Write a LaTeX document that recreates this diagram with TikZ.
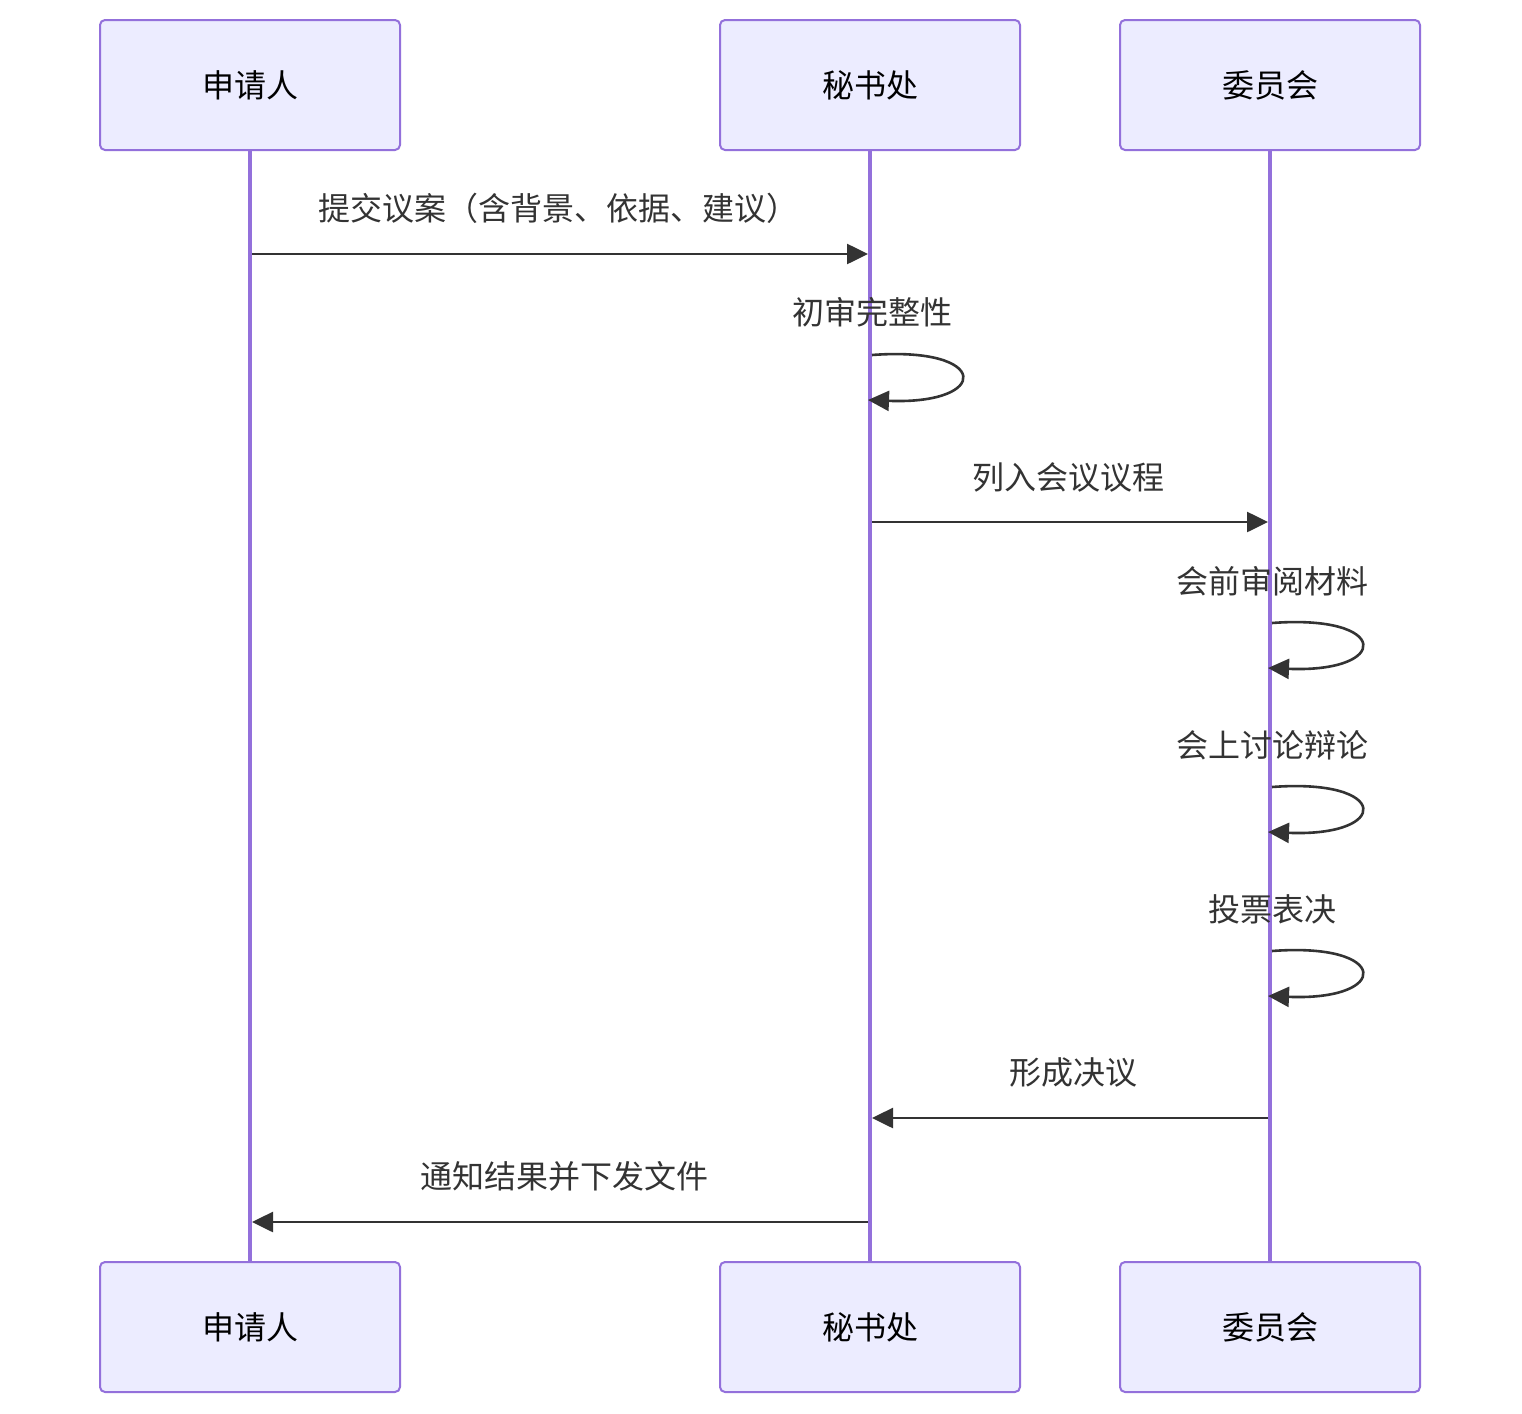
\documentclass[tikz,border=0pt]{standalone}
\usepackage{fontspec}
\newfontfamily\cjk{Noto Sans CJK SC}
\usetikzlibrary{arrows.meta}
\definecolor{actfill}{HTML}{ECECFF}
\definecolor{actline}{HTML}{9370DB}
\definecolor{msgcol}{HTML}{333333}
\tikzset{
	actor/.style={draw=actline,fill=actfill,line width=1pt,rounded corners=2.5pt,minimum width=150pt,minimum height=65pt,inner sep=0pt,font=\cjk\fontsize{16}{19}\selectfont,text=black},
	life/.style={actline,line width=2pt},
	msg/.style={msgcol,line width=1.3pt,-{Triangle[length=10.5pt,width=10pt]}},
	msglabel/.style={font=\cjk\fontsize{16}{19}\selectfont,text=msgcol,inner sep=0pt}
}
\begin{document}
\begin{tikzpicture}[x=0.5pt,y=-0.5pt]
		\useasboundingbox (0,0) rectangle (1522,1414);
		
		\draw[life] (250,150) -- (250,1262);
		\draw[life] (870,150) -- (870,1262);
		\draw[life] (1270,150) -- (1270,1262);
		
		\node[actor] (sqr) at (250,85) {申请人};
		\node[actor] (msc) at (870,85) {秘书处};
		\node[actor] (wyh) at (1270,85) {委员会};
		\node[actor] (sqrb) at (250,1327) {申请人};
		\node[actor] (mscb) at (870,1327) {秘书处};
		\node[actor] (wyhb) at (1270,1327) {委员会};
		
		% messages
		\coordinate (m1a) at (252,254);
		\coordinate (m1b) at (868,254);
		\draw[msg] (m1a) -- (m1b);
		\node[msglabel] (t1) at (558,208) {提交议案（含背景、依据、建议）};
		
		\node[msglabel] (t2) at (872,312) {初审完整性};
		\coordinate (s2a) at (872,355);
		\coordinate (s2b) at (868,400);
		\draw[msg] (s2a) .. controls (991,346) and (991,405) .. (s2b);
		
		\coordinate (m3a) at (872,522);
		\coordinate (m3b) at (1268,522);
		\draw[msg] (m3a) -- (m3b);
		\node[msglabel] (t3) at (1068,477) {列入会议议程};
		
		\node[msglabel] (t4) at (1272,581) {会前审阅材料};
		\coordinate (s4a) at (1272,623);
		\coordinate (s4b) at (1268,668);
		\draw[msg] (s4a) .. controls (1391,614) and (1391,673) .. (s4b);
		
		\node[msglabel] (t5) at (1272,745) {会上讨论辩论};
		\coordinate (s5a) at (1272,787);
		\coordinate (s5b) at (1268,832);
		\draw[msg] (s5a) .. controls (1391,778) and (1391,837) .. (s5b);
		
		\node[msglabel] (t6) at (1272,909) {投票表决};
		\coordinate (s6a) at (1272,951);
		\coordinate (s6b) at (1268,996);
		\draw[msg] (s6a) .. controls (1391,942) and (1391,1001) .. (s6b);
		
		\coordinate (m7a) at (1268,1118);
		\coordinate (m7b) at (872,1118);
		\draw[msg] (m7a) -- (m7b);
		\node[msglabel] (t7) at (1073,1072) {形成决议};
		
		\coordinate (m8a) at (868,1222);
		\coordinate (m8b) at (252,1222);
		\draw[msg] (m8a) -- (m8b);
		\node[msglabel] (t8) at (564,1176) {通知结果并下发文件};
	\end{tikzpicture}
\end{document}
